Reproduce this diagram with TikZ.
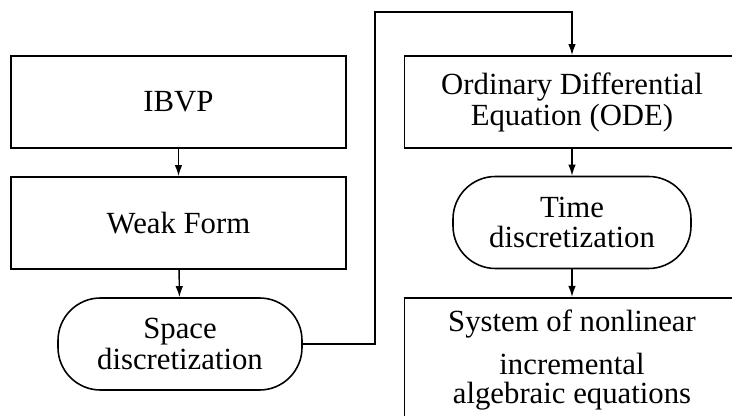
\documentclass[tikz,border=0pt]{standalone}
\usepackage{fontspec}
\setmainfont{Liberation Serif}
\usetikzlibrary{arrows.meta}

\begin{document}
\begin{tikzpicture}[
	block/.style={draw,line width=1pt,minimum width=6.7cm,minimum height=1.84cm,align=center,inner sep=0pt,font=\fontsize{17.5}{17.6}\selectfont},
	stage/.style={draw,line width=0.9pt,rounded corners=0.85cm,minimum height=1.84cm,align=center,inner sep=0pt,font=\fontsize{17.5}{17.6}\selectfont},
	link/.style={-{Latex[length=2.2mm,width=1.5mm]},line width=0.8pt}]
					\useasboundingbox (0,0) rectangle (14.64,8.32);
					\clip (0,0) rectangle (14.64,8.32);
					% space side
					\node[block] (ibvp) at (3.57,6.28) {IBVP};
					\node[block] (weak) at (3.57,3.86) {Weak Form};
					\node[stage,minimum width=4.88cm] (space) at (3.6,1.44) {Space\\discretization};
					% time side
					\node[block] (ode) at (11.44,6.28) {Ordinary Differential\\Equation (ODE)};
					\node[stage,minimum width=4.76cm] (time) at (11.44,3.87) {Time\\discretization};
					\node[block,anchor=north,minimum height=2.5cm] (sys) at (11.44,2.38) {System of nonlinear\\[0.24cm]incremental\\[-0.04cm]algebraic equations};
					\coordinate (turn) at (7.5,8.08);
					\draw[link] (ibvp) -- (weak);
					\draw[link] (weak) -- (space);
					\draw[link] (space.east) -| (turn) -| (ode.north);
					\draw[link] (ode) -- (time);
					\draw[link] (time) -- (sys);
				\end{tikzpicture}
\end{document}
